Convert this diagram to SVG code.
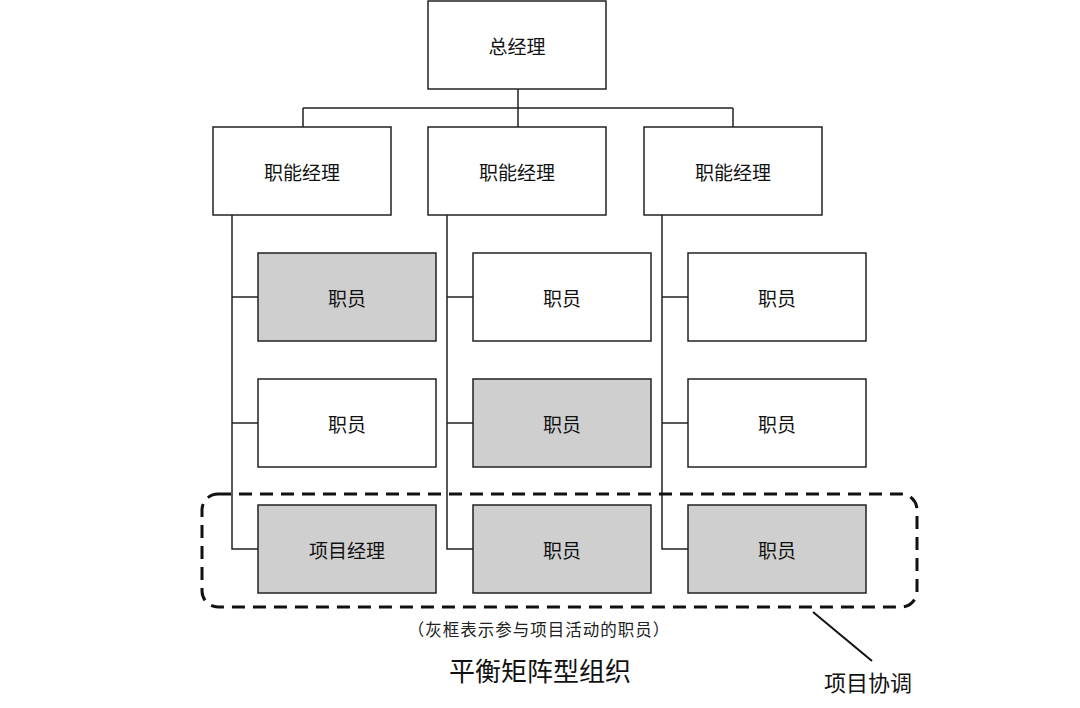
<svg xmlns="http://www.w3.org/2000/svg" width="1080" height="708" viewBox="0 0 1080 708">
<style>
.box{fill:#ffffff;stroke:#222222;stroke-width:1.5}
.gray{fill:#d0cfcf;stroke:#222222;stroke-width:1.5}
.t{font-family:"Noto Sans CJK SC","Microsoft YaHei",sans-serif;font-size:19px;fill:#111111;text-anchor:middle;dominant-baseline:central}
.ln{fill:none;stroke:#222222;stroke-width:1.5}
</style>
<rect x="0" y="0" width="1080" height="708" fill="#ffffff"/>
<g id="connectors">
<path class="ln" d="M518,89 V108 M303,108 H733 M303,108 V127 M518,108 V127 M733,108 V127"/>
<path class="ln" d="M232,215 V549 H258 M232,297 H258 M232,423 H258"/>
<path class="ln" d="M447,215 V549 H473 M447,297 H473 M447,423 H473"/>
<path class="ln" d="M662,215 V549 H688 M662,297 H688 M662,423 H688"/>
<line x1="813" y1="612" x2="872" y2="661" stroke="#111111" stroke-width="2"/>
</g>
<g id="gm"><rect class="box" x="428" y="1" width="178" height="88"/><text class="t" x="517" y="45">总经理</text></g>
<g id="fm1"><rect class="box" x="213" y="127" width="178" height="88"/><text class="t" x="302" y="171">职能经理</text></g>
<g id="fm2"><rect class="box" x="428" y="127" width="178" height="88"/><text class="t" x="517" y="171">职能经理</text></g>
<g id="fm3"><rect class="box" x="644" y="127" width="178" height="88"/><text class="t" x="733" y="171">职能经理</text></g>
<g id="s11"><rect class="gray" x="258" y="253" width="178" height="88"/><text class="t" x="347" y="297">职员</text></g>
<g id="s12"><rect class="box" x="258" y="379" width="178" height="88"/><text class="t" x="347" y="423">职员</text></g>
<g id="s13"><rect class="gray" x="258" y="505" width="178" height="88"/><text class="t" x="347" y="549">项目经理</text></g>
<g id="s21"><rect class="box" x="473" y="253" width="178" height="88"/><text class="t" x="562" y="297">职员</text></g>
<g id="s22"><rect class="gray" x="473" y="379" width="178" height="88"/><text class="t" x="562" y="423">职员</text></g>
<g id="s23"><rect class="gray" x="473" y="505" width="178" height="88"/><text class="t" x="562" y="549">职员</text></g>
<g id="s31"><rect class="box" x="688" y="253" width="178" height="88"/><text class="t" x="777" y="297">职员</text></g>
<g id="s32"><rect class="box" x="688" y="379" width="178" height="88"/><text class="t" x="777" y="423">职员</text></g>
<g id="s33"><rect class="gray" x="688" y="505" width="178" height="88"/><text class="t" x="777" y="549">职员</text></g>
<g id="project-group">
<rect x="202" y="494" width="715" height="113" rx="16" ry="16" fill="none" stroke="#111111" stroke-width="3" stroke-dasharray="13,8"/>
</g>
<text x="539" y="629" font-family="Noto Sans CJK SC, sans-serif" font-size="16.5" letter-spacing="1" fill="#222222" text-anchor="middle" dominant-baseline="central">（灰框表示参与项目活动的职员）</text>
<text x="540" y="669" font-family="Noto Sans CJK SC, sans-serif" font-size="26" fill="#111111" text-anchor="middle" dominant-baseline="central">平衡矩阵型组织</text>
<text x="868" y="681" font-family="Noto Sans CJK SC, sans-serif" font-size="22" fill="#111111" text-anchor="middle" dominant-baseline="central">项目协调</text>
</svg>
